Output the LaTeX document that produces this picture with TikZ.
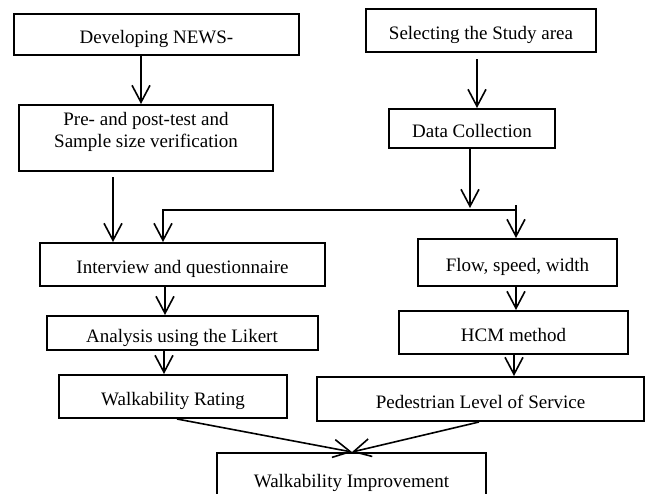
\documentclass[tikz,border=0pt]{standalone}
\usepackage{fontspec}
\setmainfont{Liberation Serif}
\usetikzlibrary{arrows.meta}
\tikzset{
  stage/.style={draw, line width=2pt, inner sep=0pt, align=center,
    font=\fontsize{19}{22}\selectfont, text height=18pt, text depth=0pt},
  flow/.style={line width=1.6pt, -{Straight Barb[length=17pt,width=18pt]}},
}
% name, x, y, width, height, text
\newcommand{\stagebox}[6]{
  \node[stage, minimum width=#4pt, minimum height=#5pt] (#1) at (#2, #3) {#6};
}

\begin{document}
\begin{tikzpicture}[x=1pt, y=-1pt]
  \useasboundingbox (0, 0) rectangle (645, 493);
  \clip (0, 0) rectangle (645, 493);
  \stagebox{dev}{156.5}{34.5}{285}{41}{Developing NEWS-}
  \stagebox{sel}{481}{30.5}{230}{43}{Selecting the Study area}
  \stagebox{pre}{146}{138}{254}{66}{Pre- and post-test and\\Sample size verification}
  \stagebox{dc}{472}{128.5}{166}{39}{Data Collection}
  \stagebox{intv}{182.5}{264.5}{285}{43}{Interview and questionnaire}
  \stagebox{flw}{517.5}{262.5}{199}{47}{Flow, speed, width}
  \stagebox{anl}{182}{333}{271}{34}{Analysis using the Likert}
  \stagebox{hcm}{513.5}{332.5}{229}{43}{HCM method}
  \stagebox{wr}{173}{396.5}{228}{43}{Walkability Rating}
  \stagebox{ped}{480.5}{399}{327}{44}{Pedestrian Level of Service}
  \stagebox{wi}{351.5}{478}{269}{50}{Walkability Improvement}
  \coordinate (jr) at (516, 210);
  \draw[flow] (dev.south -| 141,0) -- (pre.north -| 141,0);
  \draw[flow, shorten <=6pt] (sel.south -| 477,0) -- (dc.north -| 477,0);
  \draw[flow] (dc.south -| 470,0) -- (470, 208);
  \draw[flow, shorten <=5pt] (pre.south -| 113,0) -- (intv.north -| 113,0);
  \draw[flow] (jr) -| (intv.north -| 163,0);
  \draw[flow] (516, 205) -- (flw.north -| jr);
  \draw[flow] (intv.south -| 165,0) -- (anl.north -| 165,0);
  \draw[flow] (flw.south -| 516,0) -- (hcm.north -| 516,0);
  \draw[flow] (anl.south -| 164,0) -- (wr.north -| 164,0);
  \draw[flow] (hcm.south -| 514,0) -- (ped.north -| 514,0);
  \draw[flow] (wr.south -| 177,0) -- (wi.north -| 352,0);
  \draw[flow] (ped.south -| 479,0) -- (wi.north -| 352,0);
\end{tikzpicture}
\end{document}
